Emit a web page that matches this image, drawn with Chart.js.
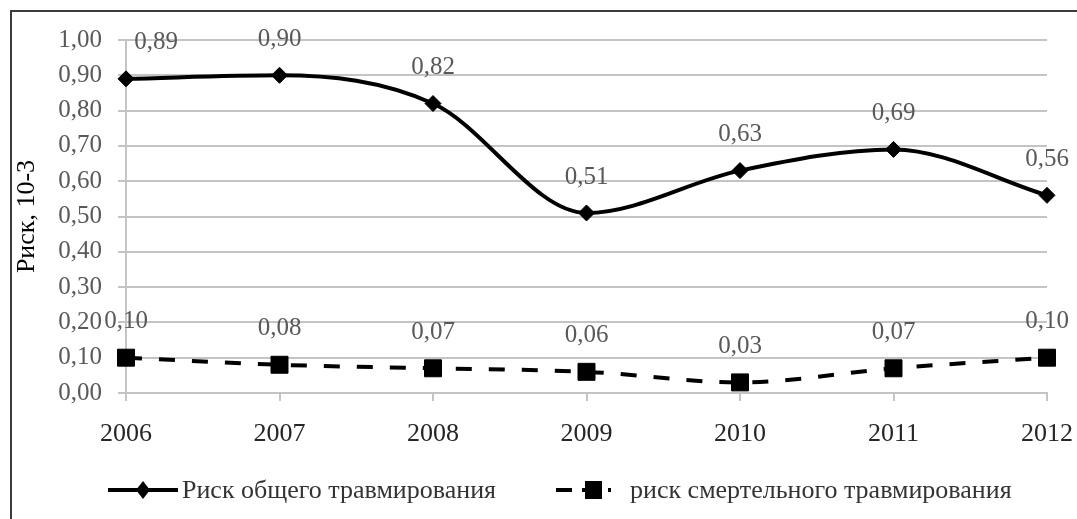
<!DOCTYPE html>
<html>
<head>
<meta charset="utf-8">
<script src="https://cdn.jsdelivr.net/npm/chart.js@4.4.0/dist/chart.umd.min.js"></script>
<style>
html,body{margin:0;padding:0;background:#fff;}
#wrap{width:1077px;height:519px;position:relative;overflow:hidden;}
canvas{display:block;}
</style>
</head>
<body>
<div id="wrap"><canvas id="c" width="1077" height="519"></canvas></div>
<script>
// ---- data ----
const years = ['2006', '2007', '2008', '2009', '2010', '2011', '2012'];
const totalRisk = [0.89, 0.90, 0.82, 0.51, 0.63, 0.69, 0.56];
const fatalRisk = [0.10, 0.08, 0.07, 0.06, 0.03, 0.07, 0.10];
const seriesNames = ['Риск общего травмирования', 'риск смертельного травмирования'];
const yAxisTitle = 'Риск, 10-3';
const yMin = 0, yMax = 1, yStep = 0.1;

const FONT = '"Liberation Serif", "Times New Roman", serif';
const fmt = v => Number(v).toFixed(2).replace('.', ',');

const labelShift = { '0-0': 30 };

const valueLabels = {
  id: 'valueLabels',
  afterDatasetsDraw(chart) {
    const ctx = chart.ctx;
    ctx.save();
    ctx.font = '25px ' + FONT;
    ctx.fillStyle = '#595959';
    ctx.textAlign = 'center';
    ctx.textBaseline = 'middle';
    chart.data.datasets.forEach((ds, di) => {
      const meta = chart.getDatasetMeta(di);
      meta.data.forEach((pt, i) => {
        const dx = labelShift[di + '-' + i] || 0;
        ctx.fillText(fmt(ds.data[i]), pt.x + dx, pt.y - 36);
      });
    });
    ctx.restore();
  }
};

const frame = {
  id: 'frame',
  beforeDraw(chart) {
    const ctx = chart.ctx;
    ctx.save();
    ctx.fillStyle = '#fff';
    ctx.fillRect(0, 0, chart.width, chart.height);
    ctx.strokeStyle = '#3c3c3c';
    ctx.lineWidth = 2;
    ctx.beginPath();
    ctx.moveTo(11, chart.height);
    ctx.lineTo(11, 11);
    ctx.lineTo(chart.width, 11);
    ctx.stroke();
    ctx.restore();
  }
};

const customLegend = {
  id: 'customLegend',
  afterDraw(chart) {
    const ctx = chart.ctx;
    const y = 490;
    ctx.save();
    ctx.strokeStyle = '#000';
    ctx.fillStyle = '#000';
    ctx.lineWidth = 4;
    ctx.beginPath();
    ctx.moveTo(108, y); ctx.lineTo(178, y);
    ctx.stroke();
    ctx.beginPath();
    ctx.moveTo(143, y - 9); ctx.lineTo(150, y); ctx.lineTo(143, y + 9); ctx.lineTo(136, y);
    ctx.closePath(); ctx.fill();
    ctx.setLineDash([16, 10]);
    ctx.beginPath();
    ctx.moveTo(556, y); ctx.lineTo(611, y);
    ctx.stroke();
    ctx.setLineDash([]);
    ctx.fillRect(585, y - 9, 17, 18);
    ctx.font = '26px ' + FONT;
    ctx.fillStyle = '#333';
    ctx.textAlign = 'left';
    ctx.textBaseline = 'middle';
    ctx.fillText(chart.data.datasets[0].label, 182, y + 1);
    ctx.fillText(chart.data.datasets[1].label, 630, y + 1);
    ctx.restore();
  }
};

new Chart(document.getElementById('c'), {
  type: 'line',
  data: {
    labels: years,
    datasets: [
      {
        label: seriesNames[0],
        data: totalRisk,
        borderColor: '#000',
        backgroundColor: '#000',
        borderWidth: 4,
        cubicInterpolationMode: 'monotone',
        pointStyle: 'rectRot',
        pointRadius: 8,
        pointBorderWidth: 1,
        pointBackgroundColor: '#000',
        pointBorderColor: '#000',
        fill: false
      },
      {
        label: seriesNames[1],
        data: fatalRisk,
        borderColor: '#000',
        backgroundColor: '#000',
        borderWidth: 4,
        borderDash: [16, 17],
        cubicInterpolationMode: 'monotone',
        pointStyle: 'rect',
        pointRadius: 12,
        pointBorderWidth: 1,
        pointBackgroundColor: '#000',
        pointBorderColor: '#000',
        fill: false
      }
    ]
  },
  options: {
    responsive: false,
    animation: false,
    devicePixelRatio: 1,
    layout: { padding: { left: 11, top: 40, right: 30, bottom: 66 } },
    plugins: { legend: { display: false }, tooltip: { enabled: false } },
    scales: {
      x: {
        offset: false,
        grid: { display: true, drawOnChartArea: false, drawTicks: true, tickLength: 8, color: '#c4c4c4', lineWidth: 2 },
        border: { display: true, color: '#c4c4c4', width: 2 },
        ticks: { font: { family: FONT, size: 26 }, color: '#262626', padding: 18, maxRotation: 0, autoSkip: false },
        afterFit(s) { s.height = 60; s.paddingLeft = 0; s.paddingRight = 0; }
      },
      y: {
        min: yMin, max: yMax,
        ticks: { stepSize: yStep, callback: v => fmt(v), font: { family: FONT, size: 25 }, color: '#595959', padding: 16 },
        grid: { color: '#c4c4c4', lineWidth: 2, tickLength: 8 },
        border: { display: true, color: '#c4c4c4', width: 2 },
        title: { display: true, text: yAxisTitle, font: { family: FONT, size: 26 }, color: '#000', padding: { top: 1, bottom: 0 } },
        afterFit(s) { s.width = 115; }
      }
    }
  },
  plugins: [frame, valueLabels, customLegend]
});
</script>
</body>
</html>
